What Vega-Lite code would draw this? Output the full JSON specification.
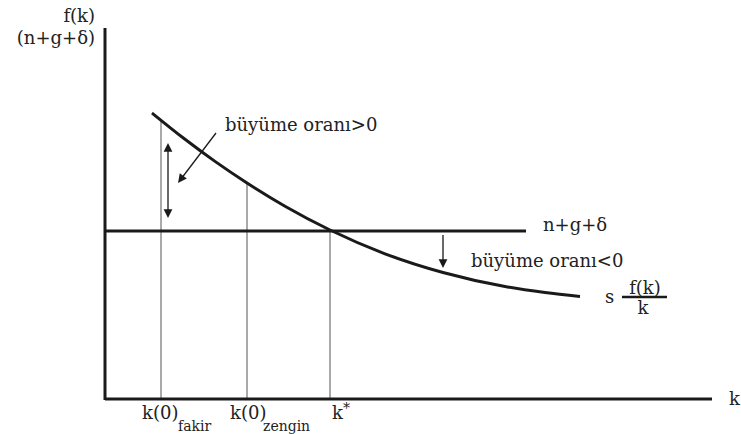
{
  "$schema": "https://vega.github.io/schema/vega-lite/v6.json",
  "width": 741,
  "height": 434,
  "padding": 0,
  "autosize": {"type": "none"},
  "background": "white",
  "config": {"view": {"stroke": null}},
  "datasets": {
    "thick": [
      {"x": 0, "x2": 0, "y": -1, "y2": 371},
      {"x": 0, "x2": 607, "y": 0, "y2": 0},
      {"x": 0, "x2": 421, "y": 168, "y2": 168}
    ],
    "bar": [{"x": 517, "x2": 562, "y": 102, "y2": 102}],
    "thin": [
      {"x": 56, "x2": 56, "y": 0, "y2": 279},
      {"x": 142, "x2": 142, "y": 0, "y2": 216},
      {"x": 225, "x2": 225, "y": 0, "y2": 168}
    ],
    "shafts": [
      {"x": 63, "x2": 63, "y": 252, "y2": 185},
      {"x": 111, "x2": 76, "y": 266, "y2": 220},
      {"x": 338, "x2": 338, "y": 164, "y2": 135}
    ],
    "curve": [
      {"x": 47, "y": 286},
      {"x": 80, "y": 259.7},
      {"x": 110, "y": 237.6},
      {"x": 142, "y": 216},
      {"x": 180, "y": 192.8},
      {"x": 225, "y": 169},
      {"x": 280, "y": 145.2},
      {"x": 338, "y": 126.5},
      {"x": 400, "y": 112.5},
      {"x": 440, "y": 106.5},
      {"x": 475, "y": 102.5}
    ],
    "headsUp": [{"x": 63, "y": 256}],
    "headsDown": [{"x": 63, "y": 181}, {"x": 338, "y": 131}],
    "headsDiag": [{"x": 73, "y": 216}],
    "textLeft": [
      {"x": 120, "y": 268, "label": "büyüme oranı>0"},
      {"x": 438, "y": 168, "label": "n+g+δ"},
      {"x": 366, "y": 132, "label": "büyüme oranı<0"},
      {"x": 500, "y": 96, "label": "s"},
      {"x": 37, "y": -20, "label": "k(0)"},
      {"x": 125, "y": -20, "label": "k(0)"},
      {"x": 227, "y": -20, "label": "k"},
      {"x": 624, "y": -6, "label": "k"}
    ],
    "textRight": [
      {"x": -10, "y": 377, "label": "f(k)"},
      {"x": -10, "y": 355, "label": "(n+g+δ)"}
    ],
    "textCenter": [
      {"x": 540, "y": 105, "label": "f(k)"},
      {"x": 538, "y": 85, "label": "k"}
    ],
    "textSmall": [
      {"x": 73, "y": -32, "label": "fakir"},
      {"x": 158, "y": -32, "label": "zengin"},
      {"x": 238, "y": -14, "label": "*"}
    ]
  },
  "encoding": {
    "x": {"field": "x", "type": "quantitative", "scale": {"domain": [-105, 636], "nice": false, "zero": false}, "axis": null},
    "y": {"field": "y", "type": "quantitative", "scale": {"domain": [-35, 399], "nice": false, "zero": false}, "axis": null}
  },
  "layer": [
    {
      "data": {"name": "thin"},
      "mark": {"type": "rule", "strokeWidth": 1, "color": "#555555"},
      "encoding": {"x2": {"field": "x2"}, "y2": {"field": "y2"}}
    },
    {
      "data": {"name": "thick"},
      "mark": {"type": "rule", "strokeWidth": 3, "color": "#1a1a1a"},
      "encoding": {"x2": {"field": "x2"}, "y2": {"field": "y2"}}
    },
    {
      "data": {"name": "bar"},
      "mark": {"type": "rule", "strokeWidth": 2.5, "color": "#1a1a1a"},
      "encoding": {"x2": {"field": "x2"}, "y2": {"field": "y2"}}
    },
    {
      "data": {"name": "shafts"},
      "mark": {"type": "rule", "strokeWidth": 1.3, "color": "#1a1a1a"},
      "encoding": {"x2": {"field": "x2"}, "y2": {"field": "y2"}}
    },
    {
      "data": {"name": "curve"},
      "mark": {"type": "line", "strokeWidth": 3, "color": "#1a1a1a", "interpolate": "monotone"}
    },
    {
      "data": {"name": "headsUp"},
      "mark": {"type": "point", "shape": "M0,0L0.55,1.1L-0.55,1.1Z", "filled": true, "size": 256, "color": "#1a1a1a", "opacity": 1, "angle": 0}
    },
    {
      "data": {"name": "headsDown"},
      "mark": {"type": "point", "shape": "M0,0L0.55,1.1L-0.55,1.1Z", "filled": true, "size": 256, "color": "#1a1a1a", "opacity": 1, "angle": 180}
    },
    {
      "data": {"name": "headsDiag"},
      "mark": {"type": "point", "shape": "M0,0L0.55,1.1L-0.55,1.1Z", "filled": true, "size": 256, "color": "#1a1a1a", "opacity": 1, "angle": 217}
    },
    {
      "data": {"name": "textLeft"},
      "mark": {"type": "text", "align": "left", "baseline": "alphabetic", "font": "DejaVu Serif", "fontSize": 18, "color": "#222222"},
      "encoding": {"text": {"field": "label"}}
    },
    {
      "data": {"name": "textRight"},
      "mark": {"type": "text", "align": "right", "baseline": "alphabetic", "font": "DejaVu Serif", "fontSize": 18, "color": "#222222"},
      "encoding": {"text": {"field": "label"}}
    },
    {
      "data": {"name": "textCenter"},
      "mark": {"type": "text", "align": "center", "baseline": "alphabetic", "font": "DejaVu Serif", "fontSize": 18, "color": "#222222"},
      "encoding": {"text": {"field": "label"}}
    },
    {
      "data": {"name": "textSmall"},
      "mark": {"type": "text", "align": "left", "baseline": "alphabetic", "font": "DejaVu Serif", "fontSize": 14, "color": "#222222"},
      "encoding": {"text": {"field": "label"}}
    }
  ]
}
